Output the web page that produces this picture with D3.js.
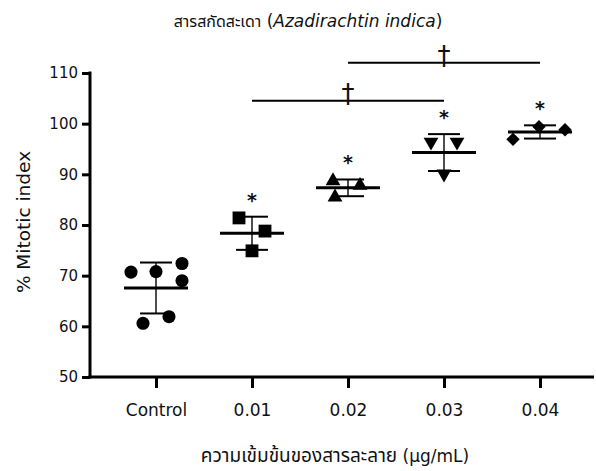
<!DOCTYPE html>
<html>
<head>
<meta charset="utf-8">
<script src="https://cdn.jsdelivr.net/npm/d3@7"></script>
<style>
  body { margin: 0; background: #fff; }
  svg text { font-family: "DejaVu Sans", "Noto Sans Thai", "Noto Sans", sans-serif; fill: #111; }
</style>
</head>
<body>
<div id="chart"></div>
<script>
// groups on the x axis
const groups = ["Control", "0.01", "0.02", "0.03", "0.04"];

// % mitotic index per replicate
const controlValues = [70.7, 70.8, 72.4, 69.0, 61.9, 60.6];
const dose001Values = [81.4, 78.8, 74.9];
const dose002Values = [88.7, 87.8, 85.5];
const dose003Values = [96.4, 96.4, 90.1];
const dose004Values = [96.9, 99.4, 98.8];

// horizontal scatter of the replicates inside a column (px)
const controlJitter = [-25, 0, 26, 26, 13, -13];
const dose001Jitter = [-13, 13, 0];
const dose002Jitter = [-15, 12, -13];
const dose003Jitter = [-13, 13, 0];
const dose004Jitter = [-27, -1, 25];

const yTicks = [50, 60, 70, 80, 90, 100, 110];

// groups marked * vs control
const starGroups = ["0.01", "0.02", "0.03", "0.04"];
// dagger comparisons: [from, to, bar level]
const daggerPairs = [["0.01", "0.03", 104.5], ["0.02", "0.04", 112]];

const seriesValues = [controlValues, dose001Values, dose002Values, dose003Values, dose004Values];
const seriesJitter = [controlJitter, dose001Jitter, dose002Jitter, dose003Jitter, dose004Jitter];
const symbols = [d3.symbolCircle, d3.symbolSquare, d3.symbolTriangle, "triDown", "diamond"];

const width = 596, height = 471;
const svg = d3.select("#chart").append("svg")
    .attr("width", width)
    .attr("height", height);

const x = d3.scalePoint().domain(groups).range([156, 540]);
const y = d3.scaleLinear().domain([50, 110]).range([377, 73]);

// y axis
const yAxisG = svg.append("g")
    .attr("transform", "translate(90,0)")
    .call(d3.axisLeft(y).tickValues(yTicks).tickSize(8).tickSizeOuter(0).tickPadding(4));
yAxisG.select(".domain").remove();
yAxisG.selectAll(".tick line").attr("stroke", "#000").attr("stroke-width", 3);
yAxisG.selectAll(".tick text").attr("font-size", 15).attr("fill", "#111");
svg.append("line")
    .attr("x1", 90).attr("x2", 90)
    .attr("y1", y(110) - 1.5).attr("y2", y(50) + 1.5)
    .attr("stroke", "#000").attr("stroke-width", 3);

// x axis
const xAxisG = svg.append("g")
    .attr("transform", "translate(0," + y(50) + ")")
    .call(d3.axisBottom(x).tickSize(11).tickSizeOuter(0).tickPadding(16));
xAxisG.select(".domain").remove();
xAxisG.selectAll(".tick line").attr("stroke", "#000").attr("stroke-width", 3);
xAxisG.selectAll(".tick text").attr("font-size", 17).attr("fill", "#111");
svg.append("line")
    .attr("x1", 88.5).attr("x2", 594)
    .attr("y1", y(50)).attr("y2", y(50))
    .attr("stroke", "#000").attr("stroke-width", 3);

function markerPath(sym) {
    if (sym === "triDown") return d3.symbol(d3.symbolTriangle, 95)();
    if (sym === "diamond") return d3.symbol(d3.symbolSquare, 90)();
    if (sym === d3.symbolCircle) return d3.symbol(sym, 135)();
    if (sym === d3.symbolSquare) return d3.symbol(sym, 165)();
    return d3.symbol(sym, 95)();
}
function markerRotate(sym) {
    if (sym === "triDown") return " rotate(180)";
    if (sym === "diamond") return " rotate(45)";
    return "";
}

const groupData = groups.map((g, i) => {
    const vals = seriesValues[i];
    return {
        group: g,
        values: vals,
        jitter: seriesJitter[i],
        symbol: symbols[i],
        mean: d3.mean(vals),
        sd: d3.deviation(vals)
    };
});

const colG = svg.selectAll(".colG")
    .data(groupData)
    .join("g")
    .attr("class", "colG");

// error bars
colG.append("line")
    .attr("x1", d => x(d.group)).attr("x2", d => x(d.group))
    .attr("y1", d => y(d.mean + d.sd)).attr("y2", d => y(d.mean - d.sd))
    .attr("stroke", "#222").attr("stroke-width", 1.6);
colG.selectAll(".cap")
    .data(d => [d.mean + d.sd, d.mean - d.sd].map(v => ({g: d.group, v: v})))
    .join("line")
    .attr("class", "cap")
    .attr("x1", d => x(d.g) - 16).attr("x2", d => x(d.g) + 16)
    .attr("y1", d => y(d.v)).attr("y2", d => y(d.v))
    .attr("stroke", "#000").attr("stroke-width", 2);
colG.append("line")
    .attr("x1", d => x(d.group) - 32).attr("x2", d => x(d.group) + 32)
    .attr("y1", d => y(d.mean)).attr("y2", d => y(d.mean))
    .attr("stroke", "#000").attr("stroke-width", 3);

// points
colG.selectAll(".markerPt")
    .data(d => d.values.map((v, j) => ({g: d.group, v: v, dx: d.jitter[j], sym: d.symbol})))
    .join("path")
    .attr("class", "markerPt")
    .attr("d", d => markerPath(d.sym))
    .attr("transform", d => "translate(" + (x(d.g) + d.dx) + "," + y(d.v) + ")" + markerRotate(d.sym))
    .attr("fill", "#000");

// asterisks
svg.selectAll(".star")
    .data(groupData.filter(d => starGroups.includes(d.group)))
    .join("text")
    .attr("class", "star")
    .attr("x", d => x(d.group))
    .attr("y", d => y(Math.max(d3.max(d.values), d.mean + d.sd)) - 10)
    .attr("text-anchor", "middle")
    .attr("font-size", 19)
    .attr("font-weight", "bold")
    .text("*");

// dagger bars
const dagG = svg.selectAll(".dagG")
    .data(daggerPairs)
    .join("g")
    .attr("class", "dagG");
dagG.append("line")
    .attr("x1", d => x(d[0])).attr("x2", d => x(d[1]))
    .attr("y1", d => y(d[2])).attr("y2", d => y(d[2]))
    .attr("stroke", "#000").attr("stroke-width", 2);
dagG.append("text")
    .attr("x", d => (x(d[0]) + x(d[1])) / 2)
    .attr("y", d => y(d[2]) + 2)
    .attr("text-anchor", "middle")
    .attr("font-size", 26)
    .text("\u2020");

// titles
const title = svg.append("text")
    .attr("x", 308).attr("y", 27)
    .attr("text-anchor", "middle")
    .attr("font-size", 17);
title.append("tspan").attr("font-size", 16).text("สารสกัดสะเดา");
title.append("tspan").text(" (");
title.append("tspan").attr("font-style", "italic").text("Azadirachtin indica");
title.append("tspan").text(")");

const xTitle = svg.append("text")
    .attr("x", 335).attr("y", 462)
    .attr("text-anchor", "middle")
    .attr("font-size", 17);
xTitle.append("tspan").attr("font-size", 19).text("ความเข้มข้นของสารละลาย");
xTitle.append("tspan").text(" (µg/mL)");

svg.append("text")
    .attr("transform", "translate(30,222) rotate(-90)")
    .attr("text-anchor", "middle")
    .attr("font-size", 18.5)
    .text("% Mitotic index");
</script>
</body>
</html>
